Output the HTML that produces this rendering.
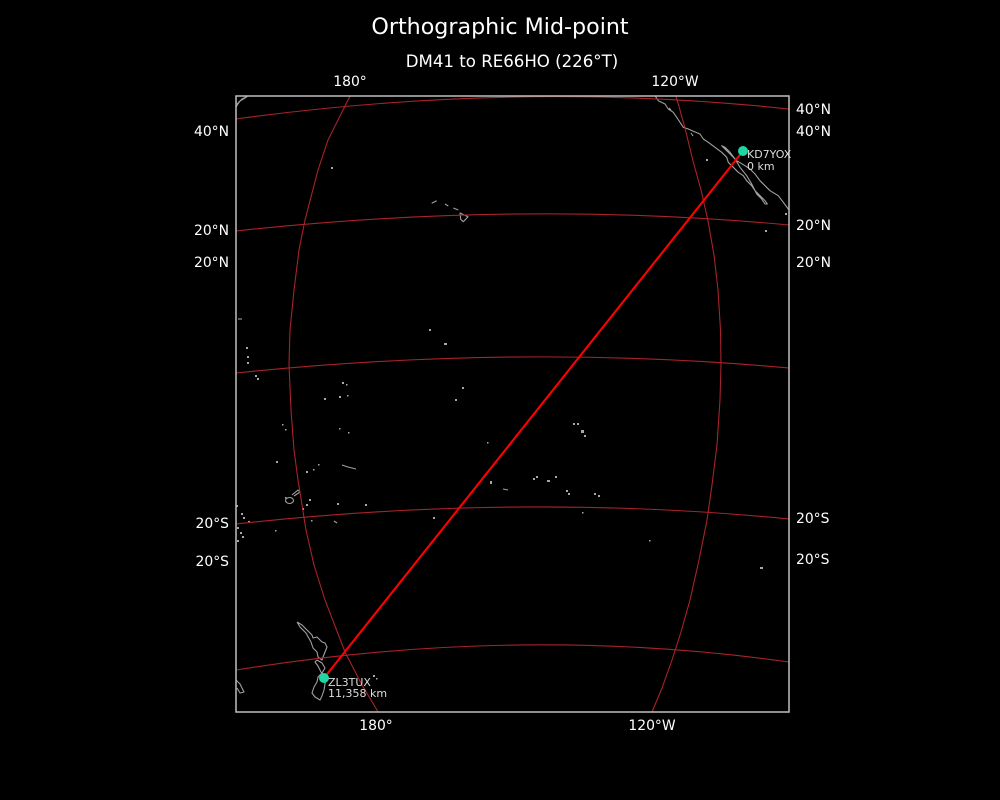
<!DOCTYPE html>
<html><head><meta charset="utf-8"><style>
html,body{margin:0;padding:0;background:#000;}
svg{display:block;}
text{font-family:"DejaVu Sans","Liberation Sans",sans-serif;fill:#fff;}
</style></head><body>
<svg width="1000" height="800" viewBox="0 0 1000 800" xmlns="http://www.w3.org/2000/svg">
<rect x="0" y="0" width="1000" height="800" fill="#000"/>
<defs><clipPath id="ax"><rect x="236" y="96" width="553" height="616"/></clipPath></defs>

<text x="500" y="34" font-size="22.2" text-anchor="middle">Orthographic Mid-point</text>
<text x="512" y="67" font-size="16.6" text-anchor="middle">DM41 to RE66HO (226°T)</text>

<g clip-path="url(#ax)">
  <!-- coastlines -->
  <g fill="none" stroke="#a0a0a0" stroke-width="1.1" stroke-linejoin="round">
    <polyline points="655,95.7 658.3,100.7 665,104 668.3,109 673.3,112.3 676.7,117.3 680,122.3 683.3,127.3 688.3,129 693.3,131.3 700,134 703.3,139 708.3,142.3 715,147.3 721.7,152.3 726.7,157.3 728.3,162.3 731.7,165.7 738.3,172.3 743.3,175.7 746.7,180.7 751.7,185.7 755,190.7 760,195.7 765,200.7 767.3,204 765,204 761.7,199 756.7,194 751.7,184 746.7,175.7 740,167.3 735,159 730,152.3 725,147.3 721.7,145.7 730,154 736.7,160.7 745,165.7 750,169 755,174 760,180.7 765,185.7 770,190.7 778.3,195.7 783.3,202.3 788.3,209 792,214"/>
    <polyline points="669,108 671,110"/>
    <polyline points="691,133 693,136"/>
    <polyline points="236,107 240,101 245,98 249,95"/>
    <polyline points="237,104 242,99 246,97"/>
    <polyline points="236,680 240,684 242,688 244,692 240,693 237,688"/>
    <!-- NZ North Island -->
    <polyline points="297,622 302,625 307,630 312,635 313,638 317,637 322,642 325,643 327,647 325,652 323,657 322,660 318,657 317,652 313,648 311,642 306,633 300,627 297,622"/>
    <!-- NZ South Island -->
    <polyline points="317,660 322,663 325,668 322,673 318,677 317,682 314,687 312,693 315,697 320,700 322,696 324,690 325,684 326,678 321,672 318,666 315,662 317,660"/>
    <!-- Hawaii -->
    <polyline points="431.7,203.3 436.7,200.7"/>
    <polyline points="445,204 448.3,206"/>
    <polyline points="453.3,208 458.3,210"/>
    <polygon points="460,213 468,216.7 463.3,221.7 460.7,219.3"/>
    <!-- Fiji -->
    <ellipse cx="289.5" cy="500.5" rx="4" ry="3"/>
    <polyline points="292,495 298,490 300,492 294,496"/>
    <!-- Samoa -->
    <polyline points="342,465 348,467 356,469"/>
    <polyline points="334,521 337,523"/>
    <polyline points="503,489 508,490"/>
    <polyline points="238,319 242,319"/>
  </g>
  <g fill="#a8a8a8">
    <rect x="331" y="167" width="2" height="2"/><rect x="246" y="347" width="2" height="2"/><rect x="247" y="356" width="2" height="2"/>
    <rect x="247" y="362" width="2" height="2"/><rect x="255" y="375" width="2" height="2"/><rect x="257" y="378" width="2" height="2"/>
    <rect x="429" y="329" width="2" height="2"/><rect x="444" y="343" width="3" height="2"/><rect x="342" y="382" width="2" height="2"/>
    <rect x="346" y="384" width="1.5" height="1.5"/><rect x="462" y="387" width="2" height="2"/><rect x="324" y="398" width="2" height="2"/>
    <rect x="339" y="396" width="2" height="2"/><rect x="347" y="395" width="1.5" height="1.5"/><rect x="455" y="399" width="2" height="2"/>
    <rect x="282" y="424" width="1.5" height="1.5"/><rect x="285" y="429" width="1.5" height="1.5"/><rect x="339" y="428" width="1.5" height="1.5"/>
    <rect x="348" y="432" width="1.5" height="1.5"/><rect x="487" y="442" width="1.5" height="1.5"/><rect x="573" y="423" width="2" height="2"/>
    <rect x="577" y="423" width="2" height="2"/><rect x="581" y="430" width="3" height="3"/><rect x="584" y="435" width="2" height="2"/>
    <rect x="276" y="461" width="2" height="2"/><rect x="318" y="464" width="1.5" height="1.5"/><rect x="306" y="471" width="2" height="2"/>
    <rect x="490" y="481" width="2" height="3"/><rect x="536" y="476" width="2" height="2"/><rect x="533" y="478" width="2" height="2"/>
    <rect x="547" y="480" width="3" height="2"/><rect x="555" y="476" width="2" height="2"/><rect x="566" y="490" width="2" height="2"/>
    <rect x="568" y="493" width="2" height="2"/><rect x="594" y="493" width="2" height="2"/><rect x="598" y="495" width="2" height="2"/>
    <rect x="285" y="497" width="1.5" height="1.5"/><rect x="302" y="508" width="2" height="2"/><rect x="306" y="504" width="2" height="2"/>
    <rect x="309" y="499" width="2" height="2"/><rect x="365" y="504" width="2" height="2"/><rect x="337" y="503" width="2" height="2"/>
    <rect x="311" y="520" width="1.5" height="1.5"/><rect x="275" y="530" width="1.5" height="1.5"/><rect x="313" y="469" width="1.5" height="1.5"/>
    <rect x="433" y="517" width="2" height="2"/><rect x="582" y="512" width="1.5" height="1.5"/><rect x="649" y="540" width="1.5" height="1.5"/>
    <rect x="760" y="567" width="3" height="2"/><rect x="765" y="230" width="2" height="2"/><rect x="706" y="159" width="2" height="2"/>
    <rect x="785" y="213" width="2" height="2"/><rect x="373" y="675" width="2" height="2"/><rect x="376" y="678" width="1.5" height="1.5"/>
    <rect x="241" y="513" width="2" height="2"/><rect x="243" y="517" width="2" height="2"/><rect x="237" y="527" width="2" height="2"/>
    <rect x="240" y="532" width="2" height="2"/><rect x="242" y="536" width="2" height="2"/><rect x="237" y="540" width="2" height="2"/>
    <rect x="236" y="505" width="2" height="2"/><rect x="248" y="521" width="2" height="2"/>
  </g>

  <!-- gridlines -->
  <g fill="none" stroke="#a8232a" stroke-width="1.1">
    <path d="M236,119 Q520,80 789,109"/>
    <path d="M236,231 Q520,200 789,225"/>
    <path d="M236,373 Q520,343.5 789,368"/>
    <path d="M236,524 Q520,492.5 789,519"/>
    <path d="M236,670 Q520,624 789,662"/>
    <polyline points="352,90 350,96 339,118 328,140 318,170 305,220 299,250 294,290 290,330 289,365 291,410 294,450 298,480 306,530 314,565 325,600 345,652 362,685 377,710 380,716"/>
    <polyline points="674,90 676,96 685,128 693,161 701,190 708,221 714,255 718,290 720.5,330 721,365 720,400 717,445 712,485 707,520 699,560 690,600 681,632 672,660 662,688 652,712 650,716"/>
  </g>

  <!-- great circle -->
  <line x1="743" y1="151" x2="324" y2="678" stroke="#ff0000" stroke-width="2.1"/>
</g>

<rect x="236" y="96" width="553" height="616" fill="none" stroke="#c0c0c0" stroke-width="1.5"/>

<!-- markers -->
<circle cx="743" cy="151" r="5" fill="#1fd6a2"/>
<circle cx="324" cy="678" r="5" fill="#1fd6a2"/>
<text x="747" y="158" font-size="11" style="fill:#dddddd">KD7YOX</text>
<text x="747" y="170" font-size="11" style="fill:#dddddd">0 km</text>
<text x="328" y="686" font-size="11" style="fill:#dddddd">ZL3TUX</text>
<text x="328" y="697" font-size="11" style="fill:#dddddd">11,358 km</text>

<!-- tick labels -->
<g font-size="13.9">
  <text x="350" y="86" text-anchor="middle">180°</text>
  <text x="675" y="86" text-anchor="middle">120°W</text>
  <text x="376" y="730" text-anchor="middle">180°</text>
  <text x="652" y="730" text-anchor="middle">120°W</text>
  <text x="229" y="136" text-anchor="end">40°N</text>
  <text x="229" y="235" text-anchor="end">20°N</text>
  <text x="229" y="267" text-anchor="end">20°N</text>
  <text x="229" y="528" text-anchor="end">20°S</text>
  <text x="229" y="566" text-anchor="end">20°S</text>
  <text x="796" y="114">40°N</text>
  <text x="796" y="136">40°N</text>
  <text x="796" y="230">20°N</text>
  <text x="796" y="267">20°N</text>
  <text x="796" y="523">20°S</text>
  <text x="796" y="564">20°S</text>
</g>
</svg>
</body></html>
